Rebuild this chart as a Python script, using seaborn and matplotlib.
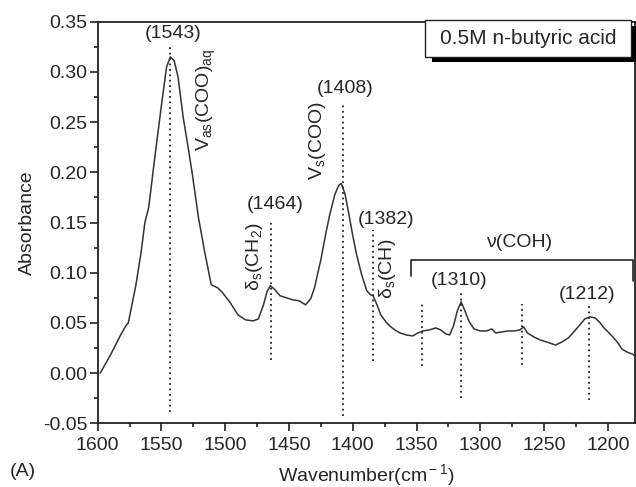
import numpy as np
import pandas as pd
import seaborn as sns
import matplotlib.pyplot as plt
from matplotlib.patches import Rectangle
from matplotlib.ticker import MultipleLocator, FormatStrFormatter

# spectrum
wavenumber = [1598, 1590, 1582, 1578, 1576, 1570, 1566, 1563, 1560, 1555,
              1550, 1546, 1543, 1540, 1537, 1533, 1530, 1526, 1521, 1516,
              1511, 1506, 1502, 1496, 1490, 1484, 1478, 1474, 1470, 1467,
              1464.5, 1461, 1457, 1452, 1447, 1442, 1437, 1433, 1430, 1425,
              1421, 1418, 1414, 1411, 1409, 1406, 1403, 1400, 1397, 1393,
              1389, 1386, 1384, 1381, 1378, 1374, 1371, 1367, 1363, 1358,
              1353, 1349, 1345, 1340, 1335, 1331, 1327, 1324, 1321, 1318,
              1315, 1312, 1309, 1305, 1300, 1295, 1291, 1288, 1283, 1278,
              1273, 1269, 1266, 1263, 1258, 1253, 1248, 1241, 1236, 1231,
              1226, 1222, 1218, 1214, 1210, 1206, 1203, 1199, 1196, 1192,
              1189, 1185, 1181, 1178]
absorbance = [0.000, 0.018, 0.038, 0.047, 0.050, 0.088, 0.120, 0.150, 0.165, 0.217,
              0.267, 0.305, 0.315, 0.311, 0.295, 0.255, 0.232, 0.200, 0.155, 0.120,
              0.088, 0.085, 0.080, 0.070, 0.058, 0.053, 0.052, 0.054, 0.068, 0.082,
              0.087, 0.083, 0.077, 0.075, 0.073, 0.072, 0.068, 0.074, 0.085, 0.113,
              0.140, 0.158, 0.178, 0.187, 0.189, 0.178, 0.158, 0.137, 0.118, 0.098,
              0.082, 0.078, 0.077, 0.068, 0.058, 0.051, 0.047, 0.043, 0.040, 0.038,
              0.037, 0.040, 0.042, 0.043, 0.045, 0.043, 0.039, 0.038, 0.047, 0.062,
              0.071, 0.062, 0.052, 0.044, 0.042, 0.042, 0.044, 0.040, 0.041, 0.042,
              0.042, 0.043, 0.046, 0.040, 0.036, 0.033, 0.031, 0.028, 0.031, 0.035,
              0.042, 0.048, 0.054, 0.056, 0.055, 0.050, 0.045, 0.040, 0.036, 0.030,
              0.024, 0.021, 0.019, 0.017]

# peak markers (dotted lines) and their labels
peak_lines = [1543, 1464, 1408, 1384, 1346, 1315, 1267, 1215]
line_top = [0.327, 0.150, 0.270, 0.143, 0.072, 0.083, 0.069, 0.068]
line_bottom = [-0.039, 0.013, -0.043, 0.012, 0.007, -0.025, 0.008, -0.027]

peak_labels = ["(1543)", "(1464)", "(1408)", "(1382)", "(1310)", "(1212)"]
peak_label_x = [1541, 1461, 1406, 1374, 1316.5, 1216]
peak_label_y = [0.338, 0.168, 0.283, 0.153, 0.092, 0.078]

band_labels = [r"V$_{\rm as}$(COO)$_{\rm aq}$", r"V$_{\rm s}$(COO)",
               r"$\rm\delta_s$(CH$_{\rm 2}$)", r"$\rm\delta_s$(CH)"]
band_x = [1515, 1427.5, 1477, 1372.5]
band_y = [0.272, 0.232, 0.116, 0.104]

df = pd.DataFrame({"wn": wavenumber, "abs": absorbance})

sns.set_style("ticks")
plt.rcParams['font.family'] = ['Liberation Sans', 'DejaVu Sans']
plt.rcParams['mathtext.fontset'] = 'custom'
plt.rcParams['mathtext.rm'] = 'Liberation Sans'
plt.rcParams['mathtext.it'] = 'Liberation Sans:italic'
plt.rcParams['axes.unicode_minus'] = False

fig = plt.figure(figsize=(6.36, 4.87), dpi=100)
ax = fig.add_axes([0.1536, 0.1308, 0.8450, 0.8246])

sns.lineplot(data=df, x="wn", y="abs", color="#333333", lw=1.1, ax=ax,
             sort=False, estimator=None)

ax.vlines(peak_lines, line_bottom, line_top, colors="#222222",
          linestyles=(0, (1, 2)), lw=1.3)

for t, x, y in zip(peak_labels, peak_label_x, peak_label_y):
    ax.text(x, y, t, ha="center", va="center", fontsize=14)
for t, x, y in zip(band_labels, band_x, band_y):
    ax.text(x, y, t, ha="center", va="center", rotation=90, fontsize=14)

# nu(COH) bracket
ax.plot([1354.4, 1354.4, 1180.3, 1180.3], [0.097, 0.113, 0.113, 0.092],
        color="#222222", lw=1.2, clip_on=False)
ax.text(1269.5, 0.130, "ν(COH)", ha="center", va="center", fontsize=14)

# sample box with black shadow
ax.add_patch(Rectangle((1177, 0.3098), 161, 0.036, facecolor="black",
                       edgecolor="none", clip_on=False, zorder=5))
ax.add_patch(Rectangle((1182, 0.3153), 161, 0.036, facecolor="white",
                       edgecolor="#222222", lw=1.0, clip_on=False, zorder=6))
ax.text(1262.5, 0.333, "0.5M n-butyric acid", ha="center", va="center",
        fontsize=15, zorder=7)

ax.set_xlim(1600, 1178.6)
ax.set_ylim(-0.05, 0.35)
ax.xaxis.set_major_locator(MultipleLocator(50))
ax.xaxis.set_minor_locator(MultipleLocator(25))
ax.yaxis.set_major_locator(MultipleLocator(0.05))
ax.yaxis.set_minor_locator(MultipleLocator(0.025))
ax.yaxis.set_major_formatter(FormatStrFormatter("%.2f"))
ax.tick_params(which="major", direction="out", length=6, width=1.2,
               labelsize=14, color="#222222")
ax.tick_params(which="minor", direction="out", length=3, width=1.2,
               color="#222222")
ax.tick_params(axis="y", pad=1.5)
ax.tick_params(axis="x", pad=4)
for s in ax.spines.values():
    s.set_linewidth(1.3)
    s.set_color("#222222")

ax.set_xlabel("Wavenumber(cm$^{\\rm -1}$)", fontsize=14, labelpad=6)
ax.set_ylabel("Absorbance", fontsize=14, labelpad=5)
fig.text(10 / 636, 1 - 471 / 487, "(A)", ha="left", va="center", fontsize=14)

fig.savefig("out.png", dpi=100)
